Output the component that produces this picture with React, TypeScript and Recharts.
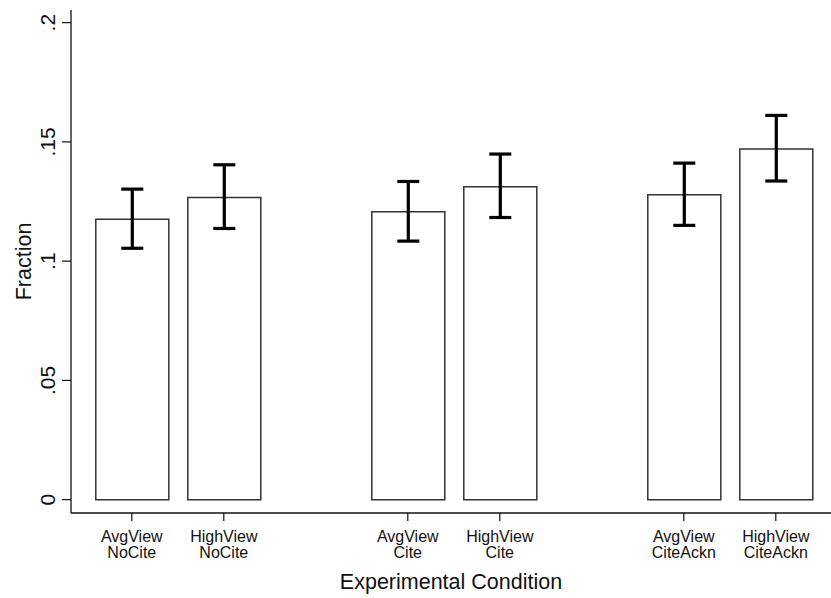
import React from 'react';
import { BarChart, Bar, XAxis, YAxis, ErrorBar } from 'recharts';

const categories = [
  'AvgView NoCite',
  'HighView NoCite',
  'AvgView Cite',
  'HighView Cite',
  'AvgView CiteAckn',
  'HighView CiteAckn',
];
const fraction = [0.1176, 0.1267, 0.1207, 0.1312, 0.1278, 0.147];
const ciLow = [0.1054, 0.1137, 0.1084, 0.1183, 0.115, 0.1336];
const ciHigh = [0.1302, 0.1404, 0.1334, 0.1449, 0.1411, 0.1611];
const yTicks = [0, 0.05, 0.1, 0.15, 0.2];
const yTickLabels = ['0', '.05', '.1', '.15', '.2'];

// two bars per condition, an empty slot between conditions
const chartData: any[] = [];
categories.forEach((name, i) => {
  if (i > 0 && i % 2 === 0) chartData.push({ name: `gap${i}` });
  chartData.push({
    name,
    fraction: fraction[i],
    err: [fraction[i] - ciLow[i], ciHigh[i] - fraction[i]],
  });
});

const FONT = '"Liberation Sans", Arial, Helvetica, sans-serif';

const XTick = ({ x, y, payload }: any) => {
  const label: string = payload.value;
  if (label.startsWith('gap')) return <g />;
  const [top, bottom] = label.split(' ');
  return (
    <g>
      <line x1={x} x2={x} y1={y - 8} y2={y} stroke="#111" strokeWidth={1.2} />
      <text x={x} y={y + 21} textAnchor="middle" fontSize={16} fontFamily={FONT} fill="#111">
        {top}
      </text>
      <text x={x} y={y + 37} textAnchor="middle" fontSize={16} fontFamily={FONT} fill="#111">
        {bottom}
      </text>
    </g>
  );
};

const YTick = ({ x, y, payload }: any) => {
  const idx = yTicks.indexOf(payload.value);
  return (
    <text
      x={x}
      y={y}
      transform={`rotate(-90, ${x}, ${y})`}
      textAnchor="middle"
      fontSize={21}
      fontFamily={FONT}
      fill="#111"
    >
      {yTickLabels[idx]}
    </text>
  );
};

const App: React.FC = () => {
  return (
    <div style={{ position: 'absolute', left: 0, top: 0, background: '#fff' }}>
      <BarChart
        width={831}
        height={598}
        data={chartData}
        margin={{ top: 10, right: 0, left: 0, bottom: 0 }}
        barSize={73}
      >
        <XAxis
          dataKey="name"
          height={85}
          padding={{ left: 14.8, right: 9.2 }}
          axisLine={{ stroke: '#111', strokeWidth: 1.3 }}
          tickLine={false}
          tickSize={8}
          tickMargin={0}
          interval={0}
          tick={<XTick />}
          label={({ viewBox }: any) => (
            <text
              x={viewBox.x + viewBox.width / 2}
              y={viewBox.y + viewBox.height - 9}
              textAnchor="middle"
              fontSize={21.5}
              fontFamily={FONT}
              fill="#111"
            >
              Experimental Condition
            </text>
          )}
        />
        <YAxis
          type="number"
          width={71}
          domain={[-0.0056, 0.2053]}
          allowDataOverflow
          ticks={yTicks}
          interval={0}
          axisLine={{ stroke: '#111', strokeWidth: 1.3 }}
          tickLine={{ stroke: '#111', strokeWidth: 1.2 }}
          tickSize={9}
          tickMargin={7}
          tick={<YTick />}
          label={({ viewBox }: any) => {
            const cy = viewBox.y + viewBox.height / 2;
            return (
              <text
                x={31}
                y={cy}
                transform={`rotate(-90, 31, ${cy})`}
                textAnchor="middle"
                fontSize={21.5}
                fontFamily={FONT}
                fill="#111"
              >
                Fraction
              </text>
            );
          }}
        />
        <Bar dataKey="fraction" fill="#fff" stroke="#333" strokeWidth={1.5} isAnimationActive={false}>
          <ErrorBar dataKey="err" width={11} strokeWidth={3.2} stroke="#000" />
        </Bar>
      </BarChart>
    </div>
  );
};

export default App;
